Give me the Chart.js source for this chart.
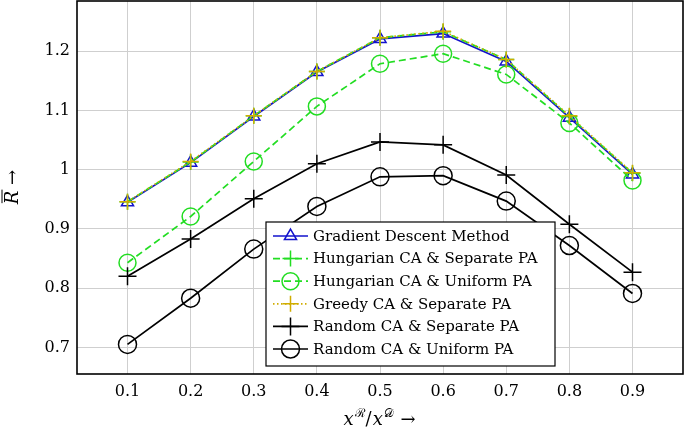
<!DOCTYPE html>
<html>
<head>
<meta charset="utf-8">
<title>R vs xR/xD</title>
<script src="https://cdn.jsdelivr.net/npm/chart.js@4/dist/chart.umd.min.js"></script>
<style>
  html, body { margin: 0; padding: 0; background: #fff; }
  #chart { display: block; }
</style>
</head>
<body>
<canvas id="chart" width="685" height="435"></canvas>
<script>
// --- Data
const xValues = [0.1, 0.2, 0.3, 0.4, 0.5, 0.6, 0.7, 0.8, 0.9];

const gradientDescent   = [0.945, 1.012, 1.090, 1.165, 1.221, 1.230, 1.183, 1.088, 0.992];
const hungarianSeparate = [0.946, 1.013, 1.091, 1.166, 1.223, 1.233, 1.186, 1.090, 0.994];
const hungarianUniform  = [0.843, 0.921, 1.014, 1.107, 1.179, 1.196, 1.161, 1.079, 0.982];
const greedySeparate    = [0.946, 1.014, 1.091, 1.166, 1.223, 1.234, 1.186, 1.091, 0.995];
const randomSeparate    = [0.820, 0.883, 0.951, 1.010, 1.047, 1.042, 0.991, 0.908, 0.827];
const randomUniform     = [0.705, 0.783, 0.866, 0.938, 0.988, 0.990, 0.947, 0.872, 0.791];

const seriesLabels = [
  'Gradient Descent Method',
  'Hungarian CA & Separate PA',
  'Hungarian CA & Uniform PA',
  'Greedy CA & Separate PA',
  'Random CA & Separate PA',
  'Random CA & Uniform PA'
];

const xTickValues = [0.1, 0.2, 0.3, 0.4, 0.5, 0.6, 0.7, 0.8, 0.9];
const xTickLabels = ['0.1', '0.2', '0.3', '0.4', '0.5', '0.6', '0.7', '0.8', '0.9'];
const yTickValues = [0.7, 0.8, 0.9, 1, 1.1, 1.2];
const yTickLabels = ['0.7', '0.8', '0.9', '1', '1.1', '1.2'];

// --- Helpers
const SERIF = '"DejaVu Serif", serif';
const toPoints = (ys) => ys.map((y, i) => ({ x: xValues[i], y: y }));

function series(idx, values, color, dash, style, radius) {
  return {
    label: seriesLabels[idx],
    data: toPoints(values),
    borderColor: color,
    borderWidth: 1.7,
    borderDash: dash,
    pointStyle: style,
    pointRadius: radius,
    pointHoverRadius: radius,
    pointBorderColor: color,
    pointBorderWidth: 1.5,
    pointBackgroundColor: 'rgba(0,0,0,0)',
    fill: false,
    tension: 0,
    order: 10 - idx
  };
}

const datasets = [
  series(0, gradientDescent,   '#1212cc', [],      'triangle', 7),
  series(1, hungarianSeparate, '#22dd22', [7, 4],  'cross',    8),
  series(2, hungarianUniform,  '#22dd22', [7, 4],  'circle',   8.5),
  series(3, greedySeparate,    '#d0ac00', [1.5, 2.5], 'cross', 8),
  series(4, randomSeparate,    '#000000', [],      'cross',    9),
  series(5, randomUniform,     '#000000', [],      'circle',   9)
];

// --- Plugins: frame, axis titles, legend box
const framePlugin = {
  id: 'frame',
  afterDraw(chart) {
    const { ctx, chartArea: a } = chart;
    ctx.save();
    ctx.strokeStyle = '#000';
    ctx.lineWidth = 1.6;
    ctx.strokeRect(a.left, a.top, a.right - a.left, a.bottom - a.top);
    ctx.restore();
  }
};

const titlesPlugin = {
  id: 'titles',
  afterDraw(chart) {
    const { ctx, chartArea: a } = chart;
    ctx.save();
    ctx.fillStyle = '#000';
    ctx.strokeStyle = '#000';
    ctx.textBaseline = 'alphabetic';

    // x title: x^R / x^D ->
    const big = 'italic 18px ' + SERIF;
    const sup = '12px ' + SERIF;
    const plain = '18px ' + SERIF;
    const parts = [
      { t: 'x', f: big, dy: 0 },
      { t: 'ℛ', f: sup, dy: -8 },
      { t: '/', f: plain, dy: 0 },
      { t: 'x', f: big, dy: 0 },
      { t: '𝒟', f: sup, dy: -8 },
      { t: ' →', f: plain, dy: 0 }
    ];
    let total = 0;
    parts.forEach(p => { ctx.font = p.f; p.w = ctx.measureText(p.t).width; total += p.w + 1; });
    let cx = (a.left + a.right) / 2 - total / 2;
    const base = 425;
    parts.forEach(p => {
      ctx.font = p.f;
      ctx.fillText(p.t, cx, base + p.dy);
      cx += p.w + 1;
    });

    // y title: R-bar ->
    ctx.translate(18, 187);
    ctx.rotate(-Math.PI / 2);
    ctx.font = big;
    const rw = ctx.measureText('R').width;
    ctx.font = plain;
    const aw = ctx.measureText(' →').width;
    const x0 = -(rw + aw) / 2;
    ctx.font = big;
    ctx.fillText('R', x0, 0);
    ctx.lineWidth = 1;
    ctx.beginPath();
    ctx.moveTo(x0 + 1, -16);
    ctx.lineTo(x0 + rw + 1, -16);
    ctx.stroke();
    ctx.font = plain;
    ctx.fillText(' →', x0 + rw, 0);
    ctx.restore();
  }
};

const legendBoxPlugin = {
  id: 'legendBox',
  afterDraw(chart) {
    const ctx = chart.ctx;
    const box = { left: 266, top: 222, right: 555, bottom: 366 };
    const rowTop = 236, rowGap = 22.6;
    ctx.save();
    ctx.fillStyle = '#fff';
    ctx.fillRect(box.left, box.top, box.right - box.left, box.bottom - box.top);
    ctx.strokeStyle = '#000';
    ctx.lineWidth = 1.2;
    ctx.strokeRect(box.left, box.top, box.right - box.left, box.bottom - box.top);

    chart.data.datasets.forEach((ds, i) => {
      const y = rowTop + i * rowGap;
      ctx.save();
      ctx.strokeStyle = ds.borderColor;
      ctx.lineWidth = ds.borderWidth;
      ctx.setLineDash(ds.borderDash);
      ctx.beginPath();
      ctx.moveTo(273, y);
      ctx.lineTo(308, y);
      ctx.stroke();
      ctx.setLineDash([]);
      ctx.strokeStyle = ds.pointBorderColor;
      ctx.fillStyle = ds.pointBackgroundColor;
      ctx.lineWidth = ds.pointBorderWidth;
      Chart.helpers.drawPoint(ctx, { pointStyle: ds.pointStyle, radius: ds.pointRadius, borderWidth: ds.pointBorderWidth, rotation: 0 }, 290.5, y);
      ctx.restore();

      ctx.fillStyle = '#000';
      ctx.font = '15px ' + SERIF;
      ctx.textBaseline = 'middle';
      ctx.fillText(ds.label, 313, y + 1);
    });
    ctx.restore();
  }
};

// --- Chart
const ctx = document.getElementById('chart').getContext('2d');
new Chart(ctx, {
  type: 'line',
  data: { datasets: datasets },
  options: {
    responsive: false,
    animation: false,
    devicePixelRatio: 1,
    layout: { autoPadding: false, padding: { top: 1, right: 2, left: 0, bottom: 0 } },
    plugins: {
      legend: { display: false },
      tooltip: { enabled: false }
    },
    scales: {
      x: {
        type: 'linear',
        min: 0.02,
        max: 0.98,
        afterBuildTicks: (axis) => { axis.ticks = xTickValues.map(v => ({ value: v })); },
        afterFit: (axis) => { axis.height = 61; axis.paddingLeft = 0; axis.paddingRight = 0; },
        grid: { color: '#cfcfcf', lineWidth: 1, drawTicks: false },
        border: { display: false },
        ticks: {
          color: '#000',
          font: { family: SERIF, size: 16 },
          padding: 8,
          maxRotation: 0,
          autoSkip: false,
          callback: (v) => { const i = xTickValues.findIndex(t => Math.abs(t - v) < 1e-9); return i >= 0 ? xTickLabels[i] : ''; }
        }
      },
      y: {
        type: 'linear',
        min: 0.655,
        max: 1.285,
        afterBuildTicks: (axis) => { axis.ticks = yTickValues.map(v => ({ value: v })); },
        afterFit: (axis) => { axis.width = 77; axis.paddingTop = 0; axis.paddingBottom = 0; },
        grid: { color: '#cfcfcf', lineWidth: 1, drawTicks: false },
        border: { display: false },
        ticks: {
          color: '#000',
          font: { family: SERIF, size: 16 },
          padding: 7,
          autoSkip: false,
          callback: (v) => { const i = yTickValues.findIndex(t => Math.abs(t - v) < 1e-9); return i >= 0 ? yTickLabels[i] : ''; }
        }
      }
    }
  },
  plugins: [framePlugin, titlesPlugin, legendBoxPlugin]
});
</script>
</body>
</html>
